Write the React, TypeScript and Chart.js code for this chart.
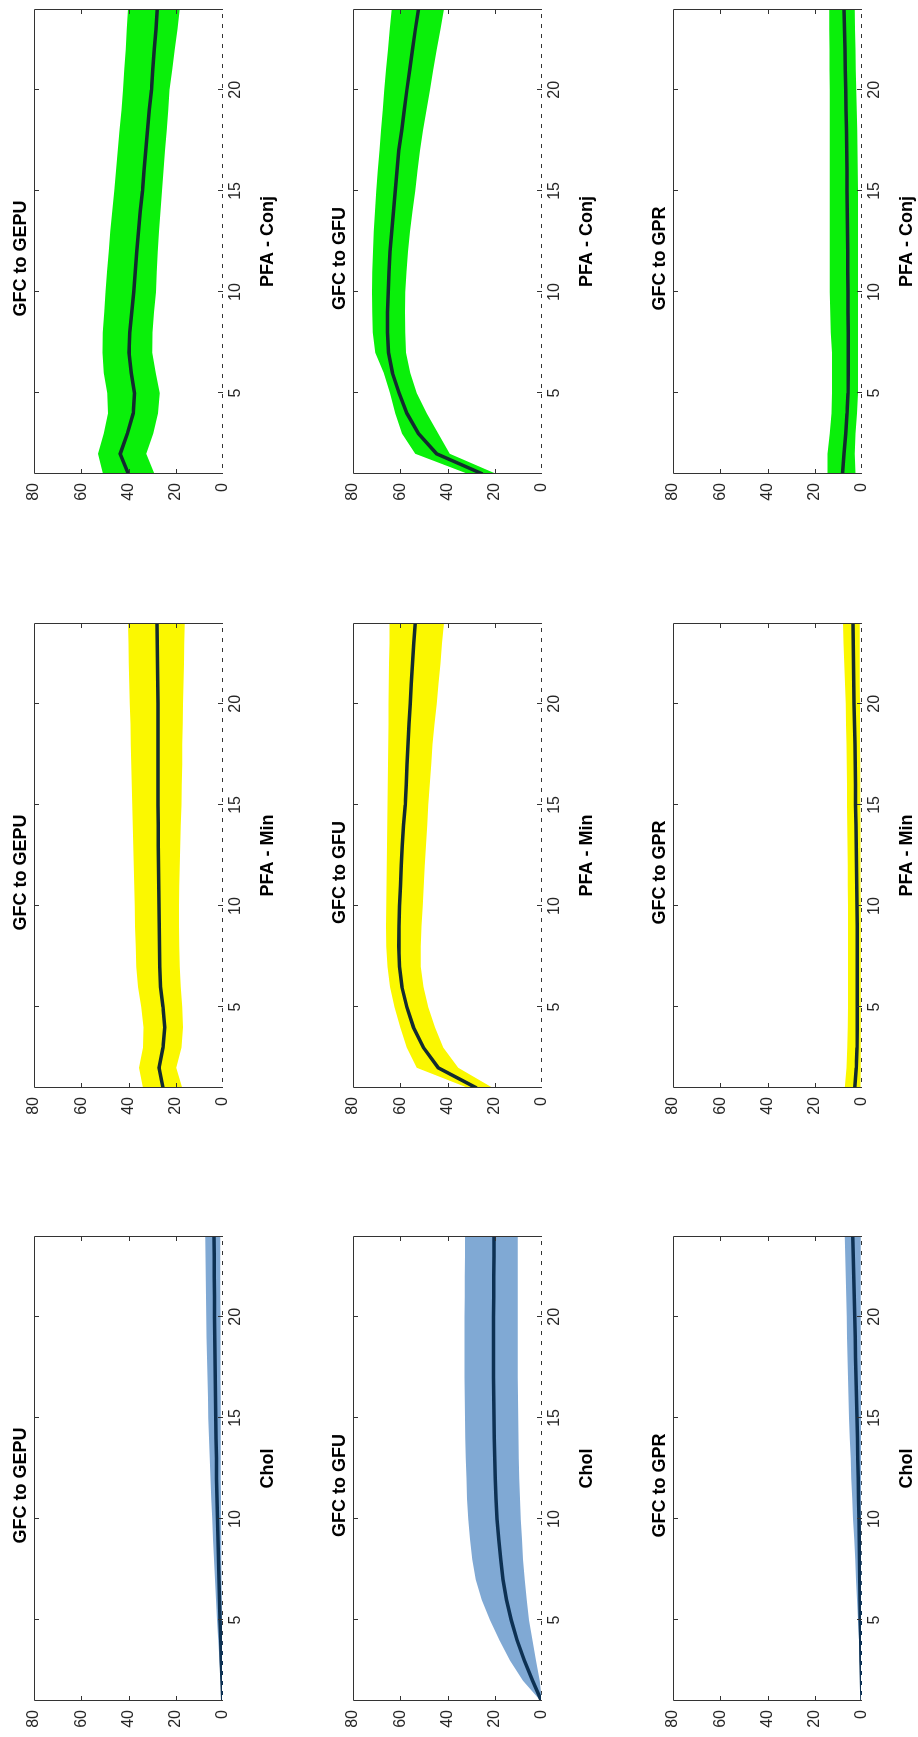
import React, { useEffect, useRef } from "react";
import { Chart, registerables } from "chart.js";

Chart.register(...registerables);

// ---------------- data ----------------
const horizons = [1, 2, 3, 4, 5, 6, 7, 8, 9, 10, 11, 12, 13, 14, 15, 16, 17, 18, 19, 20, 21, 22, 23, 24];
const valueTicks = [0, 20, 40, 60, 80];
const horizonTicks = [5, 10, 15, 20];
const rowTitles = ["GFC to GEPU", "GFC to GFU", "GFC to GPR"];
const colLabels = ["Chol", "PFA - Min", "PFA - Conj"];
const zeroLineX = [1, 24];
const zeroLineY = [0, 0];

// Chol
const cholGepuMed = [0.1, 0.4, 0.7, 1.0, 1.3, 1.5, 1.7, 1.9, 2.1, 2.3, 2.5, 2.7, 2.8, 3.0, 3.1, 3.2, 3.3, 3.4, 3.5, 3.6, 3.6, 3.7, 3.7, 3.8];
const cholGepuHi = [0.3, 0.9, 1.5, 2.0, 2.5, 3.0, 3.4, 3.8, 4.2, 4.6, 5.0, 5.3, 5.6, 5.9, 6.2, 6.4, 6.6, 6.8, 7.0, 7.1, 7.2, 7.3, 7.4, 7.5];
const cholGepuLo = [0, 0.1, 0.2, 0.3, 0.4, 0.5, 0.6, 0.7, 0.7, 0.8, 0.8, 0.9, 0.9, 1.0, 1.0, 1.0, 1.1, 1.1, 1.1, 1.1, 1.2, 1.2, 1.2, 1.2];

const cholGfuMed = [0.2, 4, 7.5, 10.5, 13, 15, 16.5, 17.5, 18.3, 19, 19.5, 19.8, 20, 20.2, 20.3, 20.4, 20.5, 20.5, 20.5, 20.5, 20.4, 20.4, 20.3, 20.3];
const cholGfuHi = [0.5, 8, 13.5, 18, 22, 25.5, 28, 29.5, 30.5, 31.2, 31.7, 32, 32.3, 32.5, 32.6, 32.7, 32.8, 32.8, 32.8, 32.8, 32.7, 32.7, 32.6, 32.6];
const cholGfuLo = [0, 1, 2.5, 4, 5.5, 6.5, 7.3, 8, 8.5, 9, 9.3, 9.6, 9.8, 10, 10.1, 10.2, 10.3, 10.3, 10.3, 10.3, 10.3, 10.3, 10.3, 10.3];

const cholGprMed = [0, 0.2, 0.4, 0.5, 0.7, 0.8, 0.9, 1.1, 1.2, 1.3, 1.5, 1.6, 1.8, 1.9, 2.1, 2.3, 2.5, 2.7, 2.9, 3.1, 3.3, 3.5, 3.7, 3.9];
const cholGprHi = [0.2, 0.5, 0.9, 1.3, 1.7, 2.1, 2.5, 2.9, 3.3, 3.8, 4.1, 4.5, 4.8, 5.2, 5.5, 5.7, 5.9, 6.1, 6.3, 6.5, 6.7, 6.9, 7.1, 7.3];
const cholGprLo = [0, 0, 0.1, 0.1, 0.1, 0.2, 0.2, 0.2, 0.3, 0.3, 0.3, 0.3, 0.4, 0.4, 0.4, 0.4, 0.4, 0.5, 0.5, 0.5, 0.5, 0.5, 0.5, 0.5];

// PFA - Min
const minGepuMed = [25.4, 27.1, 25.4, 24.7, 25.4, 26.5, 26.8, 26.9, 27, 27.1, 27.2, 27.3, 27.4, 27.4, 27.5, 27.5, 27.5, 27.5, 27.5, 27.5, 27.6, 27.7, 27.8, 27.9];
const minGepuHi = [33.9, 35.6, 33.9, 33.6, 34.6, 36, 36.7, 36.9, 37.2, 37.4, 37.6, 37.8, 38, 38.2, 38.4, 38.6, 38.8, 39, 39.2, 39.5, 39.7, 39.9, 40, 40.2];
const minGepuLo = [17.2, 19.8, 17.6, 16.9, 17.2, 17.9, 18.3, 18.5, 18.6, 18.6, 18.5, 18.3, 18.1, 17.9, 17.6, 17.5, 17.3, 17.2, 17.0, 16.9, 16.7, 16.5, 16.4, 16.2];

const minGfuMed = [27.7, 43.9, 50.2, 54.4, 57.2, 59.3, 60.3, 60.6, 60.5, 60.3, 59.9, 59.6, 59.2, 58.6, 57.9, 57.5, 57.1, 56.7, 56.3, 55.8, 55.3, 54.8, 54.3, 53.7];
const minGfuHi = [31.2, 53, 57.2, 60, 62.4, 64.3, 65.4, 65.9, 66, 65.9, 65.8, 65.7, 65.6, 65.5, 65.4, 65.3, 65.2, 65.1, 65, 65, 64.9, 64.8, 64.6, 64.5];
const minGfuLo = [20.7, 35.4, 41.8, 45.3, 48.1, 50.2, 51.3, 51.3, 51, 50.5, 50.1, 49.6, 49.1, 48.6, 48.1, 47.5, 46.9, 46.3, 45.5, 44.6, 43.8, 43, 42.3, 41.5];

const minGprMed = [3.1, 2.4, 2.1, 2.0, 2.0, 2.0, 2.0, 2.0, 2.0, 2.1, 2.2, 2.3, 2.4, 2.5, 2.7, 2.8, 2.9, 3.0, 3.2, 3.4, 3.5, 3.6, 3.7, 3.8];
const minGprHi = [7.3, 6.6, 6.2, 6.0, 5.9, 5.9, 5.9, 5.9, 5.9, 5.9, 6.0, 6.0, 6.1, 6.2, 6.3, 6.4, 6.5, 6.6, 6.8, 6.9, 7.2, 7.5, 7.8, 8.0];
const minGprLo = [0.6, 0.5, 0.5, 0.5, 0.5, 0.5, 0.5, 0.5, 0.5, 0.5, 0.6, 0.6, 0.6, 0.6, 0.7, 0.7, 0.7, 0.8, 0.8, 0.8, 0.9, 0.9, 1.0, 1.0];

// PFA - Conj
const conjGepuMed = [40, 43.5, 40.5, 38, 37.5, 38.8, 39.8, 39.5, 38.6, 37.8, 37.1, 36.5, 35.8, 35, 34.1, 33.4, 32.7, 32, 31.2, 30.3, 29.7, 29.1, 28.4, 27.8];
const conjGepuHi = [50.8, 52.9, 50.5, 48.7, 49, 50.5, 51, 50.9, 50.3, 49.7, 49.1, 48.4, 47.7, 46.9, 46, 45.3, 44.5, 43.8, 43, 42.3, 41.8, 41.2, 40.7, 40.2];
const conjGepuLo = [29, 32.5, 29.5, 27.5, 26.8, 28.5, 30, 29.8, 29.2, 28.4, 28, 27.6, 27.1, 26.5, 25.8, 25.2, 24.5, 23.8, 23.2, 22.6, 21.5, 20.4, 19.3, 18.3];

const conjGfuMed = [25.2, 44.6, 52.3, 57.2, 60.5, 63.3, 65, 65.4, 65.4, 65.1, 64.8, 64.3, 63.6, 62.9, 62.1, 61.4, 60.6, 59.4, 58.3, 57.2, 56.0, 54.8, 53.6, 52.3];
const conjGfuHi = [31.2, 53.7, 59.3, 62.1, 64.3, 67, 70.6, 71.6, 71.9, 72, 71.8, 71.5, 71.2, 70.7, 70.2, 69.5, 68.8, 68.1, 67.4, 66.8, 66, 65.2, 64.4, 63.6];
const conjGfuLo = [19.3, 39, 43.9, 48.8, 53, 55.8, 57.6, 57.9, 58, 57.9, 57.4, 56.7, 55.9, 54.8, 53.7, 52.7, 51.6, 50.4, 48.9, 47.4, 46, 44.5, 43, 41.5];

const conjGprMed = [8.3, 7.6, 6.9, 6.3, 5.9, 5.8, 5.8, 5.8, 5.9, 5.9, 6.0, 6.0, 6.1, 6.2, 6.3, 6.4, 6.5, 6.6, 6.8, 6.9, 7.1, 7.2, 7.4, 7.6];
const conjGprHi = [14.6, 14.6, 13.6, 12.9, 12.7, 12.7, 12.7, 13.2, 13.4, 13.6, 13.6, 13.6, 13.6, 13.6, 13.6, 13.6, 13.6, 13.7, 13.7, 13.7, 13.8, 13.8, 13.9, 13.9];
const conjGprLo = [2.7, 3.1, 2.7, 2.1, 1.7, 1.7, 1.7, 1.7, 1.7, 1.7, 1.7, 1.7, 1.7, 1.7, 1.7, 1.8, 1.9, 2.0, 2.2, 2.4, 2.6, 2.8, 3.0, 3.1];

// ---------------- styling ----------------
const BLUE_BAND = "#80a9d4";
const BLUE_LINE = "#0d3153";
const YELLOW_BAND = "#fbf800";
const GREEN_BAND = "#0af00a";
const DARK_LINE = "#132b30";

const FONT = "'Liberation Sans', Arial, Helvetica, sans-serif";

// upright figure geometry (the whole figure is then rotated -90deg)
const FIG_W = 1737;
const FIG_H = 918;
const COL_LEFT = [36, 649, 1263];
const ROW_TOP = [34, 353, 673];
const AREA_W = 465;
const AREA_H = 189;
const Y_AXIS_W = 34;
const TITLE_H = 24;
const X_AXIS_H = 56;
const PAD_R = 6;

type PanelDef = {
  row: number;
  col: number;
  med: number[];
  hi: number[];
  lo: number[];
  band: string;
  line: string;
};

const panels: PanelDef[] = [
  { row: 0, col: 0, med: cholGepuMed, hi: cholGepuHi, lo: cholGepuLo, band: BLUE_BAND, line: BLUE_LINE },
  { row: 1, col: 0, med: cholGfuMed, hi: cholGfuHi, lo: cholGfuLo, band: BLUE_BAND, line: BLUE_LINE },
  { row: 2, col: 0, med: cholGprMed, hi: cholGprHi, lo: cholGprLo, band: BLUE_BAND, line: BLUE_LINE },
  { row: 0, col: 1, med: minGepuMed, hi: minGepuHi, lo: minGepuLo, band: YELLOW_BAND, line: DARK_LINE },
  { row: 1, col: 1, med: minGfuMed, hi: minGfuHi, lo: minGfuLo, band: YELLOW_BAND, line: DARK_LINE },
  { row: 2, col: 1, med: minGprMed, hi: minGprHi, lo: minGprLo, band: YELLOW_BAND, line: DARK_LINE },
  { row: 0, col: 2, med: conjGepuMed, hi: conjGepuHi, lo: conjGepuLo, band: GREEN_BAND, line: DARK_LINE },
  { row: 1, col: 2, med: conjGfuMed, hi: conjGfuHi, lo: conjGfuLo, band: GREEN_BAND, line: DARK_LINE },
  { row: 2, col: 2, med: conjGprMed, hi: conjGprHi, lo: conjGprLo, band: GREEN_BAND, line: DARK_LINE },
];

const BOX_COLOR = "#333333";
const TICK_LEN = 5;

const framePlugin = {
  id: "matlabFrame",
  beforeDatasetsDraw(chart: any) {
    const { ctx, chartArea } = chart;
    const { left, right, bottom } = chartArea;
    ctx.save();
    ctx.strokeStyle = BOX_COLOR;
    ctx.lineWidth = 1;
    ctx.beginPath();
    ctx.moveTo(left, bottom - 0.5);
    ctx.lineTo(right, bottom - 0.5);
    ctx.stroke();
    ctx.restore();
  },
  afterDatasetsDraw(chart: any) {
    const { ctx, chartArea, scales } = chart;
    const { left, right, top, bottom } = chartArea;
    ctx.save();
    ctx.strokeStyle = BOX_COLOR;
    ctx.lineWidth = 1;
    ctx.beginPath();
    ctx.moveTo(left + 0.5, bottom);
    ctx.lineTo(left + 0.5, top + 0.5);
    ctx.lineTo(right - 0.5, top + 0.5);
    ctx.lineTo(right - 0.5, bottom);
    for (const v of horizonTicks) {
      const px = Math.round(scales.x.getPixelForValue(v)) + 0.5;
      ctx.moveTo(px, bottom);
      ctx.lineTo(px, bottom - TICK_LEN);
      ctx.moveTo(px, top);
      ctx.lineTo(px, top + TICK_LEN);
    }
    for (const v of valueTicks) {
      if (v === 0 || v === 80) continue;
      const py = Math.round(scales.y.getPixelForValue(v)) + 0.5;
      ctx.moveTo(left, py);
      ctx.lineTo(left + TICK_LEN, py);
      ctx.moveTo(right, py);
      ctx.lineTo(right - TICK_LEN, py);
    }
    ctx.stroke();
    ctx.restore();
  },
};

function Panel({ def }: { def: PanelDef }) {
  const ref = useRef<HTMLCanvasElement>(null);
  const width = Y_AXIS_W + AREA_W + PAD_R;
  const height = TITLE_H + AREA_H + X_AXIS_H;
  const left = COL_LEFT[def.col] - Y_AXIS_W;
  const top = ROW_TOP[def.row] - TITLE_H;

  useEffect(() => {
    const toPts = (ys: number[]) => horizons.map((h, i) => ({ x: h, y: ys[i] }));
    // Chart.js paints dataset 0 last (on top): zero line, then median, then the band
    const chart = new Chart(ref.current as HTMLCanvasElement, {
      type: "line",
      data: {
        datasets: [
          {
            data: zeroLineX.map((x, i) => ({ x, y: zeroLineY[i] })),
            borderColor: "#ffffff",
            borderWidth: 2,
            borderDash: [6, 4],
            pointRadius: 0,
            fill: false,
            clip: 3,
          },
          {
            data: toPts(def.med),
            borderColor: def.line,
            borderWidth: 3.5,
            pointRadius: 0,
            fill: false,
            tension: 0,
          },
          {
            data: toPts(def.hi),
            borderWidth: 0,
            borderColor: "rgba(0,0,0,0)",
            pointRadius: 0,
            backgroundColor: def.band,
            fill: "+1",
            tension: 0,
          },
          {
            data: toPts(def.lo),
            borderWidth: 0,
            borderColor: "rgba(0,0,0,0)",
            pointRadius: 0,
            fill: false,
            tension: 0,
          },
        ] as any,
      },
      options: {
        animation: false,
        responsive: false,
        maintainAspectRatio: false,
        events: [],
        layout: { padding: { left: 0, right: PAD_R, top: 0, bottom: 0 } },
        plugins: {
          legend: { display: false },
          tooltip: { enabled: false },
          title: {
            display: true,
            text: rowTitles[def.row],
            color: "#000000",
            font: { family: FONT, size: 18, weight: "bold" },
            padding: { top: 0, bottom: TITLE_H - 21.6 },
          },
        },
        scales: {
          x: {
            type: "linear",
            min: 1,
            max: 24,
            afterBuildTicks: (s: any) => {
              s.ticks = horizonTicks.map((v) => ({ value: v }));
            },
            afterFit: (s: any) => {
              s.height = X_AXIS_H;
              s.paddingLeft = 0;
              s.paddingRight = 0;
            },
            grid: { display: false, drawTicks: false },
            border: { display: false },
            ticks: {
              padding: 3,
              autoSkip: false,
              maxRotation: 0,
              color: "#262626",
              font: { family: FONT, size: 16 },
            },
            title: {
              display: true,
              text: colLabels[def.col],
              color: "#000000",
              font: { family: FONT, size: 18, weight: "bold" },
              padding: { top: 0, bottom: 0 },
            },
          },
          y: {
            type: "linear",
            min: 0,
            max: 80,
            afterBuildTicks: (s: any) => {
              s.ticks = valueTicks.map((v) => ({ value: v }));
            },
            afterFit: (s: any) => {
              s.width = Y_AXIS_W;
              s.paddingTop = 0;
              s.paddingBottom = 0;
            },
            grid: { display: false, drawTicks: false },
            border: { display: false },
            ticks: {
              padding: 9,
              color: "#262626",
              font: { family: FONT, size: 16 },
            },
          },
        },
      } as any,
      plugins: [framePlugin],
    });
    return () => chart.destroy();
  }, []);

  return (
    <canvas
      ref={ref}
      width={width}
      height={height}
      style={{ position: "absolute", left, top, width, height }}
    />
  );
}

export default function App() {
  return (
    <div
      style={{
        position: "absolute",
        left: 0,
        top: 0,
        width: FIG_W,
        height: FIG_H,
        background: "#ffffff",
        transformOrigin: "0 0",
        transform: `translate(0px, ${FIG_W}px) rotate(-90deg)`,
      }}
    >
      {panels.map((p, i) => (
        <Panel key={i} def={p} />
      ))}
    </div>
  );
}
